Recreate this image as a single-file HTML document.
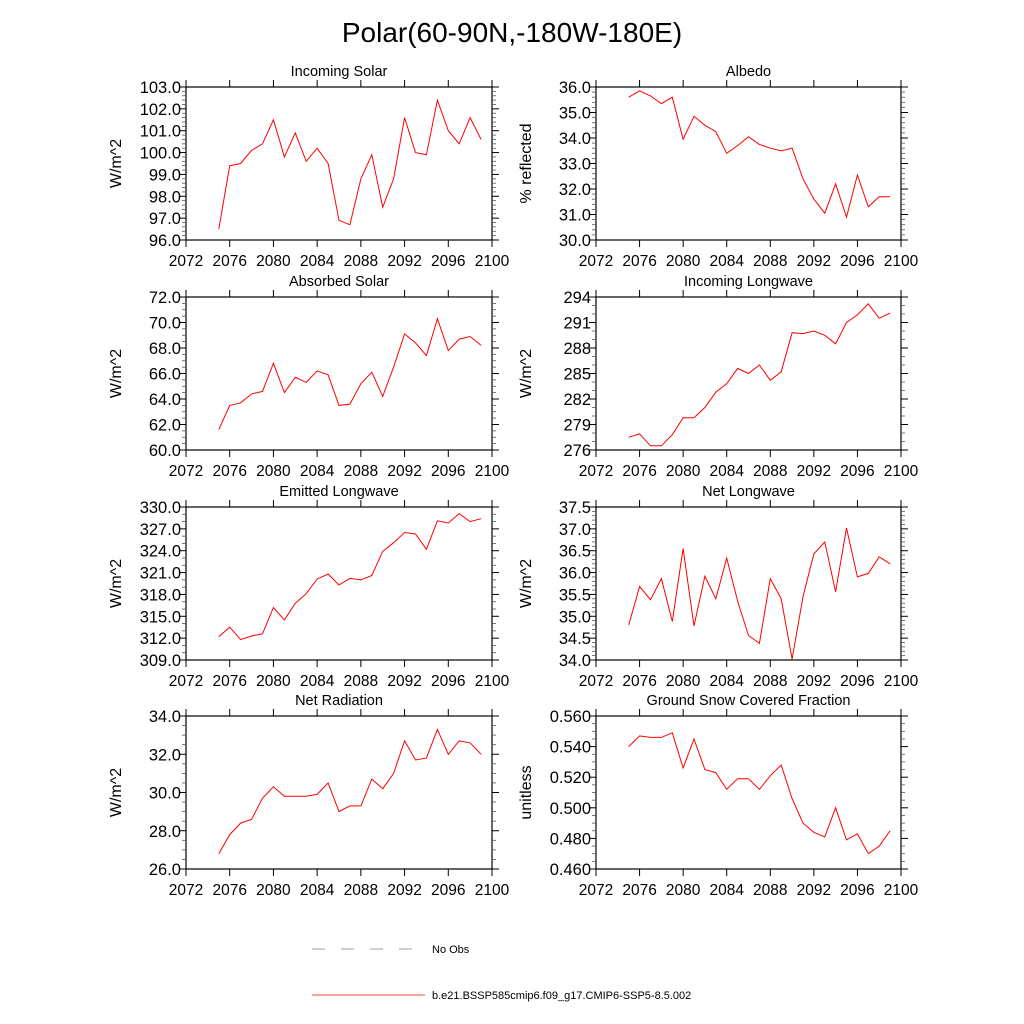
<!DOCTYPE html>
<html><head><meta charset="utf-8">
<style>
html,body{margin:0;padding:0;background:#fff;}
svg{display:block;font-family:"Liberation Sans",Arial,sans-serif;}
</style></head>
<body>
<svg id="chart" width="1024" height="1024" viewBox="0 0 1024 1024">
<text x="512" y="42" text-anchor="middle" font-size="28">Polar(60-90N,-180W-180E)</text>
<g id="panels"></g>
<g>
<line x1="312" y1="949" x2="418" y2="949" stroke="#444" stroke-width="0.6" stroke-dasharray="13,16"/>
<text x="432" y="953" font-size="11">No Obs</text>
<line x1="312" y1="995" x2="425" y2="995" stroke="#f00" stroke-width="0.7"/>
<text x="432" y="999" font-size="11">b.e21.BSSP585cmip6.f09_g17.CMIP6-SSP5-8.5.002</text>
</g>
</svg>
<script>
const years = [2075,2076,2077,2078,2079,2080,2081,2082,2083,2084,2085,2086,2087,2088,2089,2090,2091,2092,2093,2094,2095,2096,2097,2098,2099];
const xTicks = [2072,2076,2080,2084,2088,2092,2096,2100];
const incomingSolar = [96.5,99.4,99.5,100.1,100.4,101.5,99.8,100.9,99.6,100.2,99.5,96.9,96.7,98.8,99.9,97.5,98.8,101.6,100.0,99.9,102.4,101.0,100.4,101.6,100.6];
const albedo = [35.6,35.85,35.65,35.35,35.6,33.95,34.85,34.5,34.25,33.4,33.7,34.05,33.75,33.6,33.5,33.6,32.4,31.6,31.05,32.2,30.9,32.55,31.3,31.7,31.7];
const absorbedSolar = [61.6,63.5,63.7,64.4,64.6,66.8,64.5,65.7,65.3,66.2,65.9,63.5,63.6,65.2,66.1,64.2,66.5,69.1,68.4,67.4,70.3,67.8,68.7,68.9,68.2];
const incomingLW = [277.5,277.9,276.5,276.5,277.8,279.8,279.8,281.0,282.8,283.8,285.6,285.0,286.0,284.2,285.2,289.8,289.7,290.0,289.5,288.5,291.0,291.9,293.2,291.5,292.1];
const emittedLW = [312.2,313.5,311.8,312.3,312.6,316.2,314.5,316.8,318.1,320.1,320.8,319.3,320.2,320.0,320.6,323.9,325.1,326.5,326.3,324.2,328.1,327.8,329.1,328.0,328.4];
const netLW = [34.8,35.68,35.38,35.86,34.88,36.55,34.78,35.92,35.4,36.33,35.35,34.56,34.38,35.86,35.4,34.02,35.45,36.43,36.7,35.56,37.02,35.9,35.98,36.36,36.2];
const netRad = [26.8,27.8,28.4,28.6,29.7,30.3,29.8,29.8,29.8,29.9,30.5,29.0,29.3,29.3,30.7,30.2,31.0,32.7,31.7,31.8,33.3,32.0,32.7,32.6,32.0];
const snowFrac = [0.540,0.547,0.546,0.546,0.549,0.526,0.545,0.525,0.523,0.512,0.519,0.519,0.512,0.521,0.528,0.506,0.490,0.484,0.481,0.500,0.479,0.483,0.470,0.475,0.485];

const panelDefs = [
 {name:'incoming-solar',title:'Incoming Solar',ylab:'W/m^2',data:incomingSolar,min:96,max:103,step:1,dec:1,minor:5,col:0,row:0},
 {name:'albedo',title:'Albedo',ylab:'% reflected',data:albedo,min:30,max:36,step:1,dec:1,minor:5,col:1,row:0},
 {name:'absorbed-solar',title:'Absorbed Solar',ylab:'W/m^2',data:absorbedSolar,min:60,max:72,step:2,dec:1,minor:4,col:0,row:1},
 {name:'incoming-longwave',title:'Incoming Longwave',ylab:'W/m^2',data:incomingLW,min:276,max:294,step:3,dec:0,minor:3,col:1,row:1},
 {name:'emitted-longwave',title:'Emitted Longwave',ylab:'W/m^2',data:emittedLW,min:309,max:330,step:3,dec:1,minor:3,col:0,row:2},
 {name:'net-longwave',title:'Net Longwave',ylab:'W/m^2',data:netLW,min:34,max:37.5,step:0.5,dec:1,minor:5,col:1,row:2},
 {name:'net-radiation',title:'Net Radiation',ylab:'W/m^2',data:netRad,min:26,max:34,step:2,dec:1,minor:4,col:0,row:3},
 {name:'snow-fraction',title:'Ground Snow Covered Fraction',ylab:'unitless',data:snowFrac,min:0.46,max:0.56,step:0.02,dec:3,minor:4,col:1,row:3}
];
const NS='http://www.w3.org/2000/svg';
const root=document.getElementById('panels');
function mk(tag,attrs,parent){const e=document.createElementNS(NS,tag);for(const k in attrs)e.setAttribute(k,attrs[k]);parent.appendChild(e);return e;}
const colX=[186,596], W=[306,305], rowY=[87,297,507,716], H=153;
panelDefs.forEach(p=>{
  const x0=colX[p.col], w=W[p.col], y0=rowY[p.row], y1=y0+H;
  const g=mk('g',{},root);
  
  
  const sx=v=>x0+(v-2072)/(2100-2072)*w;
  const sy=v=>y1-(v-p.min)/(p.max-p.min)*H;
  const fr=mk('rect',{x:x0,y:y0,width:w,height:H,fill:'none',stroke:'#000','stroke-width':1.2},g);
  
  
  xTicks.forEach(t=>{
    const X=sx(t);
    mk('line',{x1:X,y1:y1,x2:X,y2:y1+7,stroke:'#000','stroke-width':1},g);
    mk('line',{x1:X,y1:y0,x2:X,y2:y0-7,stroke:'#000','stroke-width':1},g);
    const tl=mk('text',{x:X,y:y1+26,'text-anchor':'middle','font-size':15.5},g);
    tl.textContent=t;
    
    
  });
  const n=Math.round((p.max-p.min)/p.step);
  for(let i=0;i<=n;i++){
    const v=p.min+i*p.step, Y=sy(v);
    mk('line',{x1:x0,y1:Y,x2:x0-7,y2:Y,stroke:'#000','stroke-width':1},g);
    mk('line',{x1:x0+w,y1:Y,x2:x0+w+7,y2:Y,stroke:'#000','stroke-width':1},g);
    const yl=mk('text',{x:x0-5,y:Y+6,'text-anchor':'end','font-size':16.5},g);
    yl.textContent=v.toFixed(p.dec);
    
    
    if(i<n){for(let k=1;k<p.minor;k++){const Ym=sy(v+k*p.step/p.minor);
      mk('line',{x1:x0,y1:Ym,x2:x0-4,y2:Ym,stroke:'#555','stroke-width':0.8},g);
      mk('line',{x1:x0+w,y1:Ym,x2:x0+w+4,y2:Ym,stroke:'#555','stroke-width':0.8},g);}}
  }
  const tt=mk('text',{x:x0+w/2,y:y0-11,'text-anchor':'middle','font-size':14.5},g);
  tt.textContent=p.title;
  
  
  const yt=mk('text',{x:0,y:0,'text-anchor':'middle','font-size':16,transform:`translate(${x0-65},${y0+H/2}) rotate(-90)`},g);
  yt.textContent=p.ylab;
  
  
  const pts=p.data.map((v,i)=>sx(years[i]).toFixed(1)+','+sy(v).toFixed(1)).join(' ');
  const pl=mk('polyline',{points:pts,fill:'none',stroke:'#f00','stroke-width':1},g);
  
  
});
</script>
</body></html>
